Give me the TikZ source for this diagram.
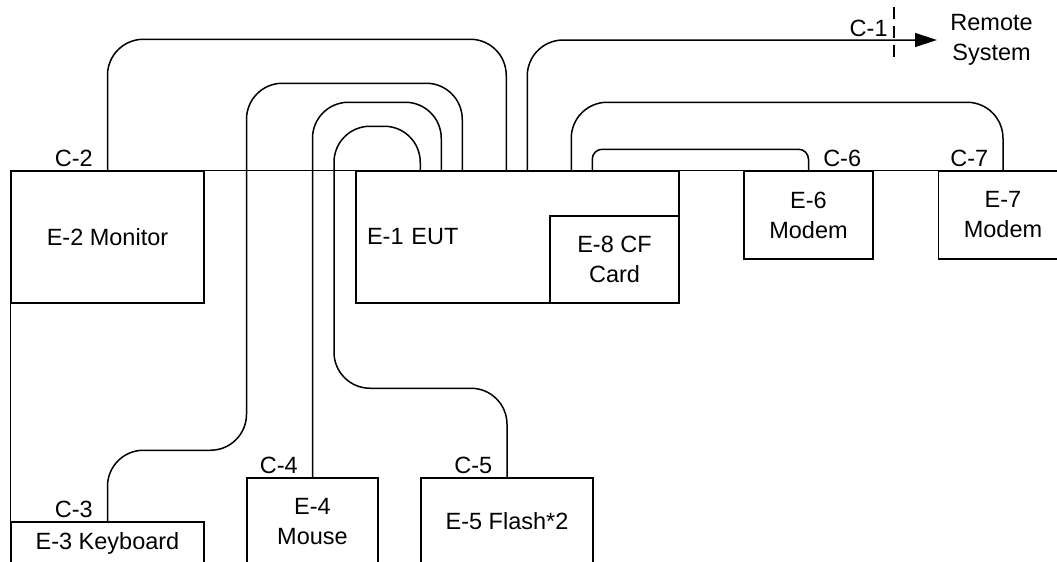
\documentclass[tikz,border=0pt]{standalone}
\usepackage{fontspec}
\setmainfont{Liberation Sans}
\usetikzlibrary{calc,arrows.meta}

\tikzset{
  box/.style={draw,line width=.75pt,align=center},
  cable/.style={line width=.75pt,rounded corners=18pt},
  clab/.style={anchor=south east,inner xsep=7pt,inner ysep=1.5pt},
  cutline/.style={line width=.75pt,dash pattern=on 6pt off 3.5pt},
}

\begin{document}
\begin{tikzpicture}[x=.5pt,y=-.5pt,font=\fontsize{11.75}{15}\selectfont]
\useasboundingbox (0,0) rectangle (1057,562);
\clip (0,0) rectangle (1057,562);

\node[box,minimum width=96.5pt,minimum height=66pt] (mon) at (107.5,237) {E-2 Monitor};
\node[box,inner xsep=5.5pt,text width=150.5pt,minimum height=66pt,align=left] (eut) at (517.5,237) {E-1 EUT};
\node[box,minimum width=64.5pt,minimum height=43.5pt] (cf) at (614.5,259.5) {E-8 CF\\Card};
\node[box,minimum width=64.5pt,minimum height=44pt] (modem6) at (808.5,215) {E-6\\Modem};
\node[box,minimum width=64.5pt,minimum height=44pt] (modem7) at (1003,215) {E-7\\Modem};
\node[box,minimum width=96.5pt,minimum height=21.5pt] (kbd) at (107.5,543.5) {E-3 Keyboard};
\node[box,minimum width=65.5pt,minimum height=43.5pt] (mouse) at (312.5,521.5) {E-4\\Mouse};
\node[box,minimum width=86pt,minimum height=43.5pt] (flash) at (507,521.5) {E-5 Flash*2};
\node[anchor=west,inner sep=0pt,align=center] (remote) at (950,40) {Remote\\System};

\draw[line width=.75pt] (mon.north west) -- (modem7.north east);
\draw[line width=.75pt] (mon.south west) -- (kbd.north west);

\coordinate (c5) at ($(eut.north west)+(65,0)$);
\coordinate (c4) at ($(eut.north west)+(86,0)$);
\coordinate (c3) at ($(eut.north west)+(107,0)$);
\coordinate (c2) at ($(eut.north west)+(151,0)$);
\coordinate (c1) at ($(eut.north west)+(172,0)$);
\coordinate (c7) at ($(eut.north west)+(216,0)$);
\coordinate (c6) at ($(eut.north west)+(237,0)$);
\coordinate (cut) at (894,40);

\draw[cable,-{Triangle[length=11pt,width=7pt]}] (c1) |- ([xshift=-6.5pt]remote.west);
\draw[cutline] ($(cut)+(0,-33)$) -- ($(cut)+(0,22)$);
\node[clab,inner xsep=3pt] (lc1) at (cut) {C-1};

\draw[cable] (mon.north) node[clab] (lc2) {C-2} -- ++(0,-131) -| (c2);
\draw[cable] (kbd.north) node[clab] (lc3) {C-3} -- ++(0,-71) -- ++(139,0) -- ++(0,-367) -| (c3);
\draw[cable] (mouse.north) node[clab] (lc4) {C-4} -- ++(0,-375) -| (c4);
\draw[cable] (flash.north) node[clab] (lc5) {C-5} -- ++(0,-89) -- ++(-173,0) -- ++(0,-262) -| (c5);
\draw[cable,rounded corners=5pt] (modem6.north) node[clab,anchor=south west] (lc6) {C-6} -- ++(0,-21) -| (c6);
\draw[cable] (modem7.north) node[clab] (lc7) {C-7} -- ++(0,-68) -| (c7);
\end{tikzpicture}
\end{document}
